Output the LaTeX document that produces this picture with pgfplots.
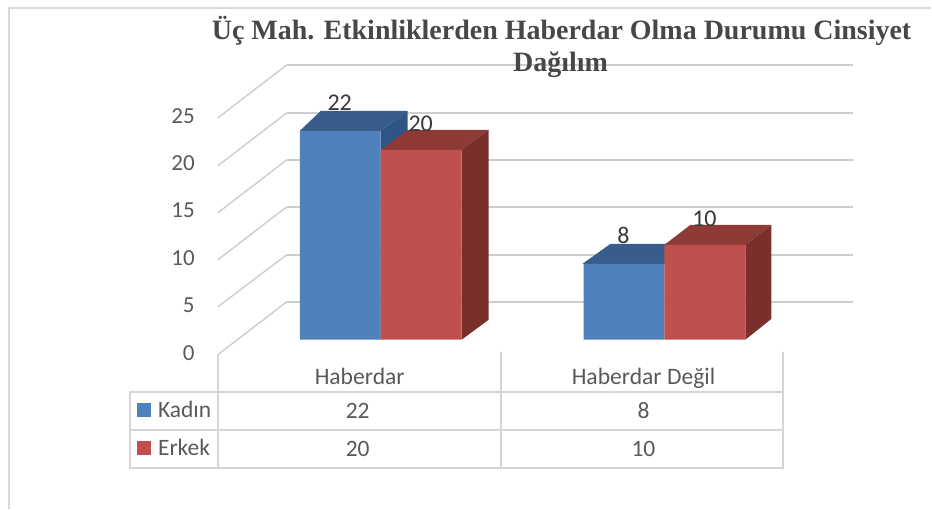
\documentclass[border=0pt]{standalone}
\usepackage{pgfplots}
\pgfplotsset{compat=1.18}
\usepackage{fontspec}
\setmainfont{Carlito}
\newfontfamily\titlefont{Liberation Serif}
\definecolor{txt}{HTML}{595959}
\definecolor{gridc}{HTML}{CDCDCD}
\definecolor{tablec}{HTML}{D6D6D6}
\definecolor{frame}{HTML}{D9D9D9}
\definecolor{bluef}{HTML}{4F81BD}
\definecolor{bluet}{HTML}{385D8A}
\definecolor{blues}{HTML}{2F5486}
\definecolor{redf}{HTML}{C0504D}
\definecolor{redt}{HTML}{8E3B38}
\definecolor{reds}{HTML}{7B2F2C}
\begin{document}
\begin{tikzpicture}
\begin{axis}[
  scale only axis, width=932pt, height=509pt,
  xmin=0, xmax=932, ymin=-17.789, ymax=35.789,
  clip=false,
  axis line style={draw=none},
  major tick length=0pt,
  tick style={draw=none},
  xtick={360,644},
  xticklabels={Haberdar,Haberdar Değil},
  ytick={-1.363,3.627,8.617,13.607,18.597,23.587},
  yticklabels={0,5,10,15,20,25},
  tick label style={font=\fontsize{23}{25}\selectfont, text=txt, inner sep=0pt},
  xticklabel style={anchor=base, yshift=124pt, font=\fontsize{23.6}{25}\selectfont},
  yticklabel style={anchor=east, xshift=195pt},
  /pgf/number format/assume math mode=true,
]
% outer frame
\draw[frame, line width=1.5pt] (axis cs:9,-17.789) -- (axis cs:9,34.95) -- (axis cs:932,34.95);
% back wall gridlines and oblique lines
\pgfplotsinvokeforeach{4,8.95,14,18.95,23.9,28.95}{
  \addplot[gridc, line width=2pt, forget plot] coordinates {(287,#1) (854,#1)};
}
\addplot[gridc, line width=1.4pt] coordinates {(218,-1.58) (287,4)};
\addplot[gridc, line width=1.4pt] coordinates {(218,3.47) (287,8.95)};
\addplot[gridc, line width=1.4pt] coordinates {(218,8.42) (287,14)};
\addplot[gridc, line width=1.4pt] coordinates {(218,13.37) (287,18.95)};
\addplot[gridc, line width=1.4pt] coordinates {(218,18.32) (287,23.9)};
\addplot[gridc, line width=1.4pt] coordinates {(218,23.37) (287,28.95)};
% 3D faces
\addplot[fill=bluet, draw=none] coordinates {(300,22) (321,24.1) (408,24.1) (381,22)} --cycle;
\addplot[fill=blues, draw=none] coordinates {(381,22) (408,24.1) (408,2.1) (381,0)} --cycle;
\addplot[fill=redt, draw=none] coordinates {(381,20) (408,22.1) (489,22.1) (462,20)} --cycle;
\addplot[fill=reds, draw=none] coordinates {(462,20) (489,22.1) (489,2.1) (462,0)} --cycle;
\addplot[fill=bluet, draw=none] coordinates {(583,8) (611,10.1) (692,10.1) (665,8)} --cycle;
\addplot[fill=redt, draw=none] coordinates {(665,10) (691,12.1) (772,12.1) (746,10)} --cycle;
\addplot[fill=reds, draw=none] coordinates {(746,10) (772,12.1) (772,2.2) (746,0)} --cycle;
% front faces
\addplot[ybar, bar width=81pt, bar shift=-40.5pt, fill=bluef, draw=none,
  nodes near coords, point meta=y,
  every node near coord/.style={anchor=center, xshift=-41pt, yshift=28pt, font=\fontsize{24}{26}\selectfont, text=black!78, inner sep=0pt}]
  coordinates {(381,22) (665,8)};
\addplot[ybar, bar width=81pt, bar shift=40.5pt, fill=redf, draw=none,
  nodes near coords, point meta=y,
  every node near coord/.style={anchor=center, xshift=40pt, yshift=26pt, font=\fontsize{24}{26}\selectfont, text=black!78, inner sep=0pt}]
  coordinates {(381,20) (665,10)};
% data table
\draw[tablec, line width=2pt] (axis cs:218,-1.58) -- (axis cs:218,-13.47);
\draw[tablec, line width=2pt] (axis cs:501,-1.26) -- (axis cs:501,-13.47);
\draw[tablec, line width=2pt] (axis cs:784,-1.26) -- (axis cs:784,-13.47);
\draw[tablec, line width=2pt] (axis cs:130,-5.47) rectangle (axis cs:784,-13.47);
\draw[tablec, line width=2pt] (axis cs:130,-9.47) -- (axis cs:784,-9.47);
\fill[bluef] (axis cs:137,-6.63) rectangle (axis cs:151,-8.11);
\fill[redf] (axis cs:137,-10.63) rectangle (axis cs:151,-12.11);
\begin{scope}[every node/.style={font=\fontsize{23.5}{25}\selectfont, text=txt, inner sep=0pt}]
\node[anchor=west] at (axis cs:158,-7.37) {Kadın};
\node[anchor=west] at (axis cs:158,-11.37) {Erkek};
\node at (axis cs:358,-7.47) {22};
\node at (axis cs:358,-11.47) {20};
\node at (axis cs:644,-7.47) {8};
\node at (axis cs:644,-11.47) {10};
\end{scope}
% title
\begin{scope}[every node/.style={font=\titlefont\bfseries\fontsize{28}{30}\selectfont, text=black!72, inner sep=0pt}]
\node at (axis cs:562,32.53) {Üç Mah. Etkinliklerden Haberdar Olma Durumu Cinsiyet};
\node at (axis cs:561,29.0) {Dağılım};
\end{scope}
\end{axis}
\end{tikzpicture}
\end{document}
